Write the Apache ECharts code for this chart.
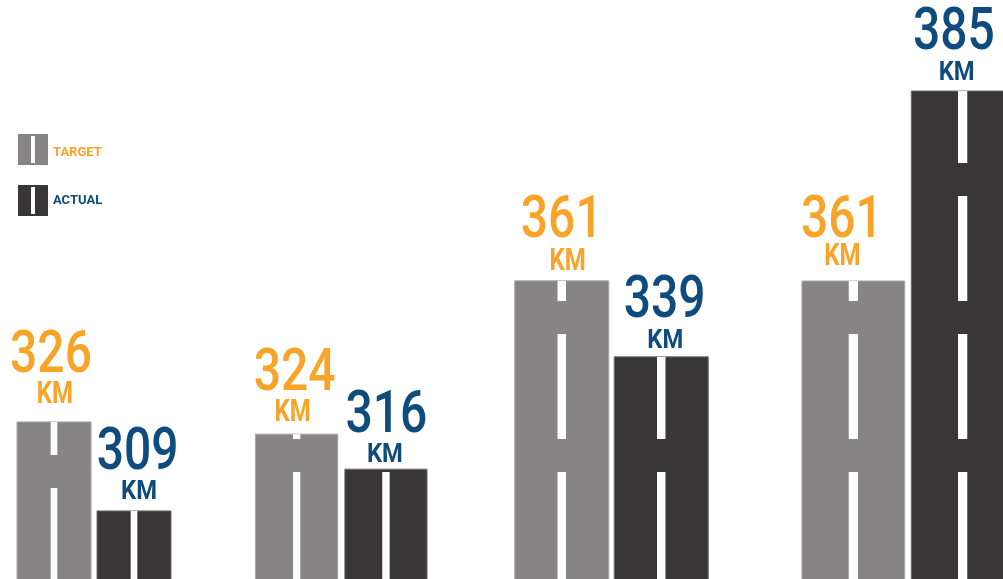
<!DOCTYPE html>
<html>
<head>
<meta charset="utf-8">
<script src="https://cdn.jsdelivr.net/npm/echarts@6/dist/echarts.min.js"></script>
<style>
  html, body { margin: 0; padding: 0; background: #ffffff; }
  #chart { width: 1003px; height: 579px; }
</style>
</head>
<body>
<div id="chart"></div>
<script>
// Road length per period: planned (target) vs. built (actual), in km
const barKinds = ['TARGET', 'ACTUAL'];
const targetKm = [326, 324, 361, 361];
const actualKm = [309, 316, 339, 385];
const unitLabel = 'KM';

// Each pair sits in its own panel with its own value window
const panelLeft  = [14, 252, 512, 798.7];
const panelWidth = [160, 178.6, 199, 218.6];
const panelRange = [[296, 406.6], [290.9, 423.2], [274.7, 442.3], [323.36, 396.5]];
const barRatio   = [0.925, 0.92, 0.945, 0.94];
const firstDash  = [91, 107, 107, 107];

// label placement relative to the bar top centre (px), per panel
const labelOffsets = {
  TARGET: { num: [65, 59, 59, 59.5], unit: [27, 21.5, 18.5, 24],
            numDx: [-3, -2, 0, -11.5], unitDx: [1, -4, 6, -11] },
  ACTUAL: { num: [56.5, 52, 55, 57.5], unit: [18.5, 13.5, 15, 17.5],
            numDx: [3.7, 0.5, 3.3, -8.7], unitDx: [5, -1, 4, -6] }
};

// numbers/units use a condensed look: Roboto squeezed horizontally
const STYLE = {
  TARGET: { fill: '#868485', edge: '#a6a4a5', text: '#f7a428',
            num: 60, numScale: 0.8, unit: 32, unitScale: 0.75 },
  ACTUAL: { fill: '#383637', edge: '#6e6c6d', text: '#0f4c7d',
            num: 60, numScale: 0.8, unit: 25, unitScale: 0.95 }
};
const FONT = "Roboto, 'Noto Sans', sans-serif";
const DASH = 105, GAP = 33;

function squeezedText(x, y, text, color, size, scale, weight) {
  return {
    type: 'text',
    x: x, y: y, scaleX: scale,
    style: {
      x: 0, y: 0, text: text, fill: color,
      font: `${weight} ${size}px ${FONT}`,
      align: 'center', verticalAlign: 'middle'
    }
  };
}

function makeRender(panel, kind) {
  const st = STYLE[kind];
  const off = labelOffsets[kind];
  return function (params, api) {
    const cat = api.value(0);
    const val = api.value(1);
    const topPt = api.coord([cat, val]);
    const cs = params.coordSys;
    const base = cs.y + cs.height;
    const band = api.size([1, 0])[0];
    const w = band * barRatio[panel];
    const x0 = topPt[0] - w / 2;
    const top = topPt[1];
    const children = [{
      type: 'rect',
      shape: { x: x0, y: top, width: w, height: base - top + 5 },
      style: { fill: st.fill, stroke: st.edge, lineWidth: 1 }
    }];
    // centre line of the road, dashed from the bottom up
    const dw = Math.max(5, w * 0.09);
    let y1 = base + 20;
    let y0 = base - firstDash[panel];
    while (y1 > top) {
      const a = Math.max(y0, top);
      if (y1 - a > 0) {
        children.push({
          type: 'rect',
          shape: { x: topPt[0] - dw / 2, y: a, width: dw, height: y1 - a },
          style: { fill: '#ffffff' }
        });
      }
      y1 = y0 - GAP;
      y0 = y1 - DASH;
    }
    children.push(squeezedText(topPt[0] + off.numDx[panel], top - off.num[panel],
      String(val), st.text, st.num, st.numScale, 500));
    children.push(squeezedText(topPt[0] + off.unitDx[panel], top - off.unit[panel],
      unitLabel, st.text, st.unit, st.unitScale, 'bold'));
    return { type: 'group', children };
  };
}

const grids = [], xAxes = [], yAxes = [], series = [];
targetKm.forEach((t, i) => {
  grids.push({ left: panelLeft[i], width: panelWidth[i], top: 0, bottom: 0, outerBoundsMode: 'none' });
  xAxes.push({ type: 'category', gridIndex: i, data: barKinds, show: false });
  yAxes.push({ type: 'value', gridIndex: i, min: panelRange[i][0], max: panelRange[i][1], show: false });
  const values = { TARGET: targetKm[i], ACTUAL: actualKm[i] };
  barKinds.forEach((kind, k) => {
    series.push({
      type: 'custom',
      name: kind,
      xAxisIndex: i,
      yAxisIndex: i,
      itemStyle: { color: STYLE[kind].fill },
      renderItem: makeRender(i, kind),
      data: [[k, values[kind]]],
      silent: true
    });
  });
});

const roadIcon = 'path://M0,0H30V31H0Z M13,2V29H17V2Z';

const chart = echarts.init(document.getElementById('chart'), null, { renderer: 'canvas' });
chart.setOption({
  animation: false,
  backgroundColor: '#ffffff',
  legend: {
    orient: 'vertical',
    left: 18,
    top: 134,
    padding: 0,
    itemWidth: 30,
    itemHeight: 31,
    itemGap: 20,
    selectedMode: false,
    data: [
      { name: 'TARGET', icon: roadIcon, textStyle: { color: STYLE.TARGET.text } },
      { name: 'ACTUAL', icon: roadIcon, textStyle: { color: STYLE.ACTUAL.text } }
    ],
    formatter: name => name === 'TARGET' ? '{low|' + name + '}' : name,
    textStyle: {
      fontFamily: FONT, fontWeight: 'bold', fontSize: 13,
      rich: { low: { fontFamily: FONT, fontWeight: 'bold', fontSize: 13, padding: [7, 0, 0, 0] } }
    }
  },
  grid: grids,
  xAxis: xAxes,
  yAxis: yAxes,
  series
});
</script>
</body>
</html>
